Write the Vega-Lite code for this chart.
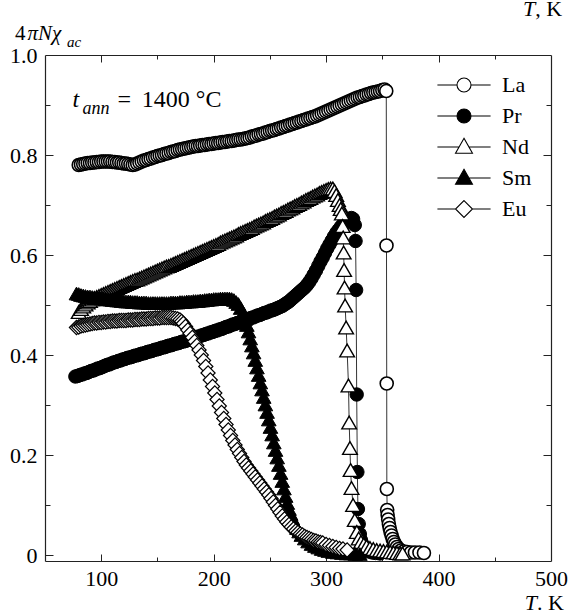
{
"$schema": "https://vega.github.io/schema/vega-lite/v6.json",
"width": 506, "height": 506,
"autosize": "none",
"padding": {"left": 45, "top": 55, "right": 19, "bottom": 54},
"background": "white",
"config": {"view": {"stroke": null}, "font": "Liberation Serif"},
"datasets": {"c": [
{"s":"La","T":80,"v":0.780},{"s":"La","T":82,"v":0.781},{"s":"La","T":84,"v":0.782},{"s":"La","T":86,"v":0.783},{"s":"La","T":88,"v":0.784},{"s":"La","T":90,"v":0.784},{"s":"La","T":92,"v":0.785},{"s":"La","T":94,"v":0.785},{"s":"La","T":96,"v":0.786},{"s":"La","T":98,"v":0.786},{"s":"La","T":100,"v":0.787},{"s":"La","T":102,"v":0.787},{"s":"La","T":104,"v":0.787},{"s":"La","T":106,"v":0.787},{"s":"La","T":108,"v":0.787},{"s":"La","T":110,"v":0.786},{"s":"La","T":112,"v":0.786},{"s":"La","T":114,"v":0.785},{"s":"La","T":116,"v":0.785},{"s":"La","T":118,"v":0.784},{"s":"La","T":120,"v":0.783},{"s":"La","T":122,"v":0.783},{"s":"La","T":124,"v":0.782},{"s":"La","T":126,"v":0.781},{"s":"La","T":128,"v":0.780},{"s":"La","T":130,"v":0.781},{"s":"La","T":132,"v":0.783},{"s":"La","T":134,"v":0.785},{"s":"La","T":136,"v":0.787},{"s":"La","T":138,"v":0.789},{"s":"La","T":140,"v":0.790},{"s":"La","T":142,"v":0.792},{"s":"La","T":144,"v":0.793},{"s":"La","T":146,"v":0.795},{"s":"La","T":148,"v":0.796},{"s":"La","T":150,"v":0.798},{"s":"La","T":152,"v":0.799},{"s":"La","T":154,"v":0.800},{"s":"La","T":156,"v":0.802},{"s":"La","T":158,"v":0.803},{"s":"La","T":160,"v":0.804},{"s":"La","T":162,"v":0.806},{"s":"La","T":164,"v":0.807},{"s":"La","T":166,"v":0.808},{"s":"La","T":168,"v":0.810},{"s":"La","T":170,"v":0.811},{"s":"La","T":172,"v":0.812},{"s":"La","T":174,"v":0.813},{"s":"La","T":176,"v":0.814},{"s":"La","T":178,"v":0.815},{"s":"La","T":180,"v":0.816},{"s":"La","T":182,"v":0.817},{"s":"La","T":184,"v":0.818},{"s":"La","T":186,"v":0.818},{"s":"La","T":188,"v":0.819},{"s":"La","T":190,"v":0.820},{"s":"La","T":192,"v":0.820},{"s":"La","T":194,"v":0.821},{"s":"La","T":196,"v":0.822},{"s":"La","T":198,"v":0.822},{"s":"La","T":200,"v":0.823},{"s":"La","T":202,"v":0.824},{"s":"La","T":204,"v":0.824},{"s":"La","T":206,"v":0.825},{"s":"La","T":208,"v":0.826},{"s":"La","T":210,"v":0.826},{"s":"La","T":212,"v":0.827},{"s":"La","T":214,"v":0.828},{"s":"La","T":216,"v":0.828},{"s":"La","T":218,"v":0.829},{"s":"La","T":220,"v":0.830},{"s":"La","T":222,"v":0.831},{"s":"La","T":224,"v":0.831},{"s":"La","T":226,"v":0.832},{"s":"La","T":228,"v":0.833},{"s":"La","T":230,"v":0.834},{"s":"La","T":232,"v":0.835},{"s":"La","T":234,"v":0.837},{"s":"La","T":236,"v":0.838},{"s":"La","T":238,"v":0.839},{"s":"La","T":240,"v":0.841},{"s":"La","T":242,"v":0.842},{"s":"La","T":244,"v":0.843},{"s":"La","T":246,"v":0.845},{"s":"La","T":248,"v":0.846},{"s":"La","T":250,"v":0.848},{"s":"La","T":252,"v":0.849},{"s":"La","T":254,"v":0.850},{"s":"La","T":256,"v":0.852},{"s":"La","T":258,"v":0.853},{"s":"La","T":260,"v":0.855},{"s":"La","T":262,"v":0.856},{"s":"La","T":264,"v":0.858},{"s":"La","T":266,"v":0.859},{"s":"La","T":268,"v":0.861},{"s":"La","T":270,"v":0.862},{"s":"La","T":272,"v":0.864},{"s":"La","T":274,"v":0.865},{"s":"La","T":276,"v":0.867},{"s":"La","T":278,"v":0.868},{"s":"La","T":280,"v":0.870},{"s":"La","T":282,"v":0.871},{"s":"La","T":284,"v":0.873},{"s":"La","T":286,"v":0.874},{"s":"La","T":288,"v":0.876},{"s":"La","T":290,"v":0.877},{"s":"La","T":292,"v":0.879},{"s":"La","T":294,"v":0.881},{"s":"La","T":296,"v":0.883},{"s":"La","T":298,"v":0.885},{"s":"La","T":300,"v":0.887},{"s":"La","T":302,"v":0.889},{"s":"La","T":304,"v":0.891},{"s":"La","T":306,"v":0.893},{"s":"La","T":308,"v":0.895},{"s":"La","T":310,"v":0.897},{"s":"La","T":312,"v":0.899},{"s":"La","T":314,"v":0.901},{"s":"La","T":316,"v":0.903},{"s":"La","T":318,"v":0.905},{"s":"La","T":320,"v":0.907},{"s":"La","T":322,"v":0.909},{"s":"La","T":324,"v":0.911},{"s":"La","T":326,"v":0.913},{"s":"La","T":328,"v":0.915},{"s":"La","T":330,"v":0.916},{"s":"La","T":332,"v":0.918},{"s":"La","T":334,"v":0.919},{"s":"La","T":336,"v":0.921},{"s":"La","T":338,"v":0.922},{"s":"La","T":340,"v":0.924},{"s":"La","T":342,"v":0.925},{"s":"La","T":344,"v":0.926},{"s":"La","T":346,"v":0.927},{"s":"La","T":348,"v":0.928},{"s":"La","T":350,"v":0.930},{"s":"La","T":352,"v":0.931},{"s":"La","T":353.5,"v":0.928},{"s":"La","T":353.7,"v":0.619},{"s":"La","T":353.9,"v":0.343},{"s":"La","T":354.0,"v":0.132},{"s":"La","T":354.3,"v":0.090},{"s":"La","T":354.7,"v":0.080},{"s":"La","T":355.2,"v":0.071},{"s":"La","T":355.8,"v":0.062},{"s":"La","T":356.5,"v":0.054},{"s":"La","T":357.3,"v":0.046},{"s":"La","T":358.2,"v":0.039},{"s":"La","T":359.2,"v":0.032},{"s":"La","T":360.3,"v":0.026},{"s":"La","T":361.5,"v":0.021},{"s":"La","T":363,"v":0.016},{"s":"La","T":364.5,"v":0.012},{"s":"La","T":366.5,"v":0.009},{"s":"La","T":369,"v":0.007},{"s":"La","T":372,"v":0.006},{"s":"La","T":375.5,"v":0.005},{"s":"La","T":379,"v":0.005},{"s":"La","T":383,"v":0.005},{"s":"La","T":387,"v":0.004},
{"s":"Pr","T":77,"v":0.357},{"s":"Pr","T":79,"v":0.358},{"s":"Pr","T":81,"v":0.360},{"s":"Pr","T":83,"v":0.361},{"s":"Pr","T":85,"v":0.363},{"s":"Pr","T":87,"v":0.364},{"s":"Pr","T":89,"v":0.366},{"s":"Pr","T":91,"v":0.368},{"s":"Pr","T":93,"v":0.369},{"s":"Pr","T":95,"v":0.371},{"s":"Pr","T":97,"v":0.373},{"s":"Pr","T":99,"v":0.374},{"s":"Pr","T":101,"v":0.376},{"s":"Pr","T":103,"v":0.378},{"s":"Pr","T":105,"v":0.380},{"s":"Pr","T":107,"v":0.381},{"s":"Pr","T":109,"v":0.383},{"s":"Pr","T":111,"v":0.385},{"s":"Pr","T":113,"v":0.386},{"s":"Pr","T":115,"v":0.388},{"s":"Pr","T":117,"v":0.389},{"s":"Pr","T":119,"v":0.391},{"s":"Pr","T":121,"v":0.392},{"s":"Pr","T":123,"v":0.394},{"s":"Pr","T":125,"v":0.395},{"s":"Pr","T":127,"v":0.396},{"s":"Pr","T":129,"v":0.398},{"s":"Pr","T":131,"v":0.399},{"s":"Pr","T":133,"v":0.400},{"s":"Pr","T":135,"v":0.402},{"s":"Pr","T":137,"v":0.403},{"s":"Pr","T":139,"v":0.404},{"s":"Pr","T":141,"v":0.406},{"s":"Pr","T":143,"v":0.407},{"s":"Pr","T":145,"v":0.408},{"s":"Pr","T":147,"v":0.410},{"s":"Pr","T":149,"v":0.411},{"s":"Pr","T":151,"v":0.412},{"s":"Pr","T":153,"v":0.414},{"s":"Pr","T":155,"v":0.415},{"s":"Pr","T":157,"v":0.416},{"s":"Pr","T":159,"v":0.418},{"s":"Pr","T":161,"v":0.419},{"s":"Pr","T":163,"v":0.420},{"s":"Pr","T":165,"v":0.422},{"s":"Pr","T":167,"v":0.423},{"s":"Pr","T":169,"v":0.424},{"s":"Pr","T":171,"v":0.426},{"s":"Pr","T":173,"v":0.427},{"s":"Pr","T":175,"v":0.428},{"s":"Pr","T":177,"v":0.430},{"s":"Pr","T":179,"v":0.431},{"s":"Pr","T":181,"v":0.433},{"s":"Pr","T":183,"v":0.434},{"s":"Pr","T":185,"v":0.436},{"s":"Pr","T":187,"v":0.437},{"s":"Pr","T":189,"v":0.439},{"s":"Pr","T":191,"v":0.440},{"s":"Pr","T":193,"v":0.442},{"s":"Pr","T":195,"v":0.443},{"s":"Pr","T":197,"v":0.445},{"s":"Pr","T":199,"v":0.446},{"s":"Pr","T":201,"v":0.448},{"s":"Pr","T":203,"v":0.449},{"s":"Pr","T":205,"v":0.451},{"s":"Pr","T":207,"v":0.452},{"s":"Pr","T":209,"v":0.454},{"s":"Pr","T":211,"v":0.456},{"s":"Pr","T":213,"v":0.457},{"s":"Pr","T":215,"v":0.459},{"s":"Pr","T":217,"v":0.461},{"s":"Pr","T":219,"v":0.462},{"s":"Pr","T":221,"v":0.464},{"s":"Pr","T":223,"v":0.465},{"s":"Pr","T":225,"v":0.467},{"s":"Pr","T":227,"v":0.469},{"s":"Pr","T":229,"v":0.470},{"s":"Pr","T":231,"v":0.472},{"s":"Pr","T":233,"v":0.474},{"s":"Pr","T":235,"v":0.475},{"s":"Pr","T":237,"v":0.477},{"s":"Pr","T":239,"v":0.479},{"s":"Pr","T":241,"v":0.480},{"s":"Pr","T":243,"v":0.482},{"s":"Pr","T":245,"v":0.484},{"s":"Pr","T":247,"v":0.485},{"s":"Pr","T":249,"v":0.487},{"s":"Pr","T":251,"v":0.489},{"s":"Pr","T":253,"v":0.490},{"s":"Pr","T":255,"v":0.492},{"s":"Pr","T":257,"v":0.494},{"s":"Pr","T":259,"v":0.496},{"s":"Pr","T":261,"v":0.498},{"s":"Pr","T":263,"v":0.501},{"s":"Pr","T":265,"v":0.504},{"s":"Pr","T":267,"v":0.507},{"s":"Pr","T":269,"v":0.511},{"s":"Pr","T":271,"v":0.515},{"s":"Pr","T":273,"v":0.519},{"s":"Pr","T":275,"v":0.523},{"s":"Pr","T":277,"v":0.527},{"s":"Pr","T":279,"v":0.531},{"s":"Pr","T":281,"v":0.535},{"s":"Pr","T":283,"v":0.540},{"s":"Pr","T":285,"v":0.546},{"s":"Pr","T":287,"v":0.553},{"s":"Pr","T":289,"v":0.561},{"s":"Pr","T":291,"v":0.569},{"s":"Pr","T":293,"v":0.578},{"s":"Pr","T":295,"v":0.587},{"s":"Pr","T":297,"v":0.595},{"s":"Pr","T":299,"v":0.604},{"s":"Pr","T":301,"v":0.613},{"s":"Pr","T":303,"v":0.621},{"s":"Pr","T":305,"v":0.629},{"s":"Pr","T":307,"v":0.637},{"s":"Pr","T":309,"v":0.644},{"s":"Pr","T":311,"v":0.650},{"s":"Pr","T":313,"v":0.656},{"s":"Pr","T":315,"v":0.661},{"s":"Pr","T":317,"v":0.666},{"s":"Pr","T":319,"v":0.669},{"s":"Pr","T":321,"v":0.672},{"s":"Pr","T":322.5,"v":0.674},{"s":"Pr","T":324,"v":0.672},{"s":"Pr","T":325.5,"v":0.660},{"s":"Pr","T":326.2,"v":0.628},{"s":"Pr","T":326.7,"v":0.530},{"s":"Pr","T":327.2,"v":0.321},{"s":"Pr","T":327.8,"v":0.166},{"s":"Pr","T":328.3,"v":0.092},{"s":"Pr","T":329,"v":0.062},{"s":"Pr","T":330,"v":0.042},{"s":"Pr","T":331,"v":0.030},{"s":"Pr","T":332.5,"v":0.021},{"s":"Pr","T":334,"v":0.015},{"s":"Pr","T":336,"v":0.010},{"s":"Pr","T":338,"v":0.007},{"s":"Pr","T":341,"v":0.005},{"s":"Pr","T":344,"v":0.004},{"s":"Pr","T":348,"v":0.003},
{"s":"Nd","T":80,"v":0.486},{"s":"Nd","T":82,"v":0.492},{"s":"Nd","T":84,"v":0.497},{"s":"Nd","T":86,"v":0.501},{"s":"Nd","T":88,"v":0.505},{"s":"Nd","T":90,"v":0.508},{"s":"Nd","T":92,"v":0.511},{"s":"Nd","T":94,"v":0.514},{"s":"Nd","T":96,"v":0.516},{"s":"Nd","T":98,"v":0.518},{"s":"Nd","T":100,"v":0.520},{"s":"Nd","T":102,"v":0.522},{"s":"Nd","T":104,"v":0.524},{"s":"Nd","T":106,"v":0.526},{"s":"Nd","T":108,"v":0.528},{"s":"Nd","T":110,"v":0.530},{"s":"Nd","T":112,"v":0.532},{"s":"Nd","T":114,"v":0.534},{"s":"Nd","T":116,"v":0.536},{"s":"Nd","T":118,"v":0.538},{"s":"Nd","T":120,"v":0.540},{"s":"Nd","T":122,"v":0.542},{"s":"Nd","T":124,"v":0.544},{"s":"Nd","T":126,"v":0.546},{"s":"Nd","T":128,"v":0.548},{"s":"Nd","T":130,"v":0.550},{"s":"Nd","T":132,"v":0.551},{"s":"Nd","T":134,"v":0.553},{"s":"Nd","T":136,"v":0.555},{"s":"Nd","T":138,"v":0.557},{"s":"Nd","T":140,"v":0.559},{"s":"Nd","T":142,"v":0.561},{"s":"Nd","T":144,"v":0.563},{"s":"Nd","T":146,"v":0.565},{"s":"Nd","T":148,"v":0.567},{"s":"Nd","T":150,"v":0.569},{"s":"Nd","T":152,"v":0.571},{"s":"Nd","T":154,"v":0.573},{"s":"Nd","T":156,"v":0.575},{"s":"Nd","T":158,"v":0.577},{"s":"Nd","T":160,"v":0.578},{"s":"Nd","T":162,"v":0.580},{"s":"Nd","T":164,"v":0.582},{"s":"Nd","T":166,"v":0.584},{"s":"Nd","T":168,"v":0.586},{"s":"Nd","T":170,"v":0.588},{"s":"Nd","T":172,"v":0.590},{"s":"Nd","T":174,"v":0.592},{"s":"Nd","T":176,"v":0.594},{"s":"Nd","T":178,"v":0.596},{"s":"Nd","T":180,"v":0.598},{"s":"Nd","T":182,"v":0.600},{"s":"Nd","T":184,"v":0.602},{"s":"Nd","T":186,"v":0.604},{"s":"Nd","T":188,"v":0.606},{"s":"Nd","T":190,"v":0.608},{"s":"Nd","T":192,"v":0.610},{"s":"Nd","T":194,"v":0.612},{"s":"Nd","T":196,"v":0.614},{"s":"Nd","T":198,"v":0.616},{"s":"Nd","T":200,"v":0.618},{"s":"Nd","T":202,"v":0.620},{"s":"Nd","T":204,"v":0.622},{"s":"Nd","T":206,"v":0.625},{"s":"Nd","T":208,"v":0.627},{"s":"Nd","T":210,"v":0.629},{"s":"Nd","T":212,"v":0.631},{"s":"Nd","T":214,"v":0.633},{"s":"Nd","T":216,"v":0.635},{"s":"Nd","T":218,"v":0.637},{"s":"Nd","T":220,"v":0.639},{"s":"Nd","T":222,"v":0.642},{"s":"Nd","T":224,"v":0.644},{"s":"Nd","T":226,"v":0.646},{"s":"Nd","T":228,"v":0.648},{"s":"Nd","T":230,"v":0.650},{"s":"Nd","T":232,"v":0.652},{"s":"Nd","T":234,"v":0.654},{"s":"Nd","T":236,"v":0.657},{"s":"Nd","T":238,"v":0.659},{"s":"Nd","T":240,"v":0.661},{"s":"Nd","T":242,"v":0.663},{"s":"Nd","T":244,"v":0.665},{"s":"Nd","T":246,"v":0.668},{"s":"Nd","T":248,"v":0.670},{"s":"Nd","T":250,"v":0.672},{"s":"Nd","T":252,"v":0.674},{"s":"Nd","T":254,"v":0.677},{"s":"Nd","T":256,"v":0.679},{"s":"Nd","T":258,"v":0.681},{"s":"Nd","T":260,"v":0.684},{"s":"Nd","T":262,"v":0.686},{"s":"Nd","T":264,"v":0.688},{"s":"Nd","T":266,"v":0.691},{"s":"Nd","T":268,"v":0.693},{"s":"Nd","T":270,"v":0.695},{"s":"Nd","T":272,"v":0.698},{"s":"Nd","T":274,"v":0.700},{"s":"Nd","T":276,"v":0.702},{"s":"Nd","T":278,"v":0.705},{"s":"Nd","T":280,"v":0.707},{"s":"Nd","T":282,"v":0.710},{"s":"Nd","T":284,"v":0.712},{"s":"Nd","T":286,"v":0.714},{"s":"Nd","T":288,"v":0.717},{"s":"Nd","T":290,"v":0.719},{"s":"Nd","T":292,"v":0.721},{"s":"Nd","T":294,"v":0.724},{"s":"Nd","T":296,"v":0.726},{"s":"Nd","T":298,"v":0.728},{"s":"Nd","T":300,"v":0.730},{"s":"Nd","T":302,"v":0.732},{"s":"Nd","T":304,"v":0.733},{"s":"Nd","T":306,"v":0.733},{"s":"Nd","T":307.5,"v":0.728},{"s":"Nd","T":309,"v":0.720},{"s":"Nd","T":310.5,"v":0.710},{"s":"Nd","T":312,"v":0.700},{"s":"Nd","T":313,"v":0.692},{"s":"Nd","T":314,"v":0.683},{"s":"Nd","T":314.7,"v":0.658},{"s":"Nd","T":315.2,"v":0.635},{"s":"Nd","T":315.6,"v":0.605},{"s":"Nd","T":316,"v":0.570},{"s":"Nd","T":316.4,"v":0.535},{"s":"Nd","T":316.9,"v":0.499},{"s":"Nd","T":317.8,"v":0.455},{"s":"Nd","T":318.7,"v":0.409},{"s":"Nd","T":319.9,"v":0.339},{"s":"Nd","T":320.5,"v":0.265},{"s":"Nd","T":321.2,"v":0.214},{"s":"Nd","T":321.8,"v":0.170},{"s":"Nd","T":322.6,"v":0.134},{"s":"Nd","T":324,"v":0.100},{"s":"Nd","T":325.5,"v":0.070},{"s":"Nd","T":327.3,"v":0.046},{"s":"Nd","T":329,"v":0.033},{"s":"Nd","T":331,"v":0.026},{"s":"Nd","T":333.5,"v":0.021},{"s":"Nd","T":336,"v":0.017},{"s":"Nd","T":339,"v":0.014},{"s":"Nd","T":342,"v":0.012},{"s":"Nd","T":345,"v":0.010},{"s":"Nd","T":348,"v":0.009},{"s":"Nd","T":351,"v":0.008},{"s":"Nd","T":354,"v":0.007},{"s":"Nd","T":357,"v":0.006},{"s":"Nd","T":360,"v":0.005},{"s":"Nd","T":363,"v":0.004},{"s":"Nd","T":366,"v":0.003},{"s":"Nd","T":368,"v":0.003},
{"s":"Sm","T":78,"v":0.523},{"s":"Sm","T":80,"v":0.522},{"s":"Sm","T":82,"v":0.520},{"s":"Sm","T":84,"v":0.519},{"s":"Sm","T":86,"v":0.518},{"s":"Sm","T":88,"v":0.517},{"s":"Sm","T":90,"v":0.517},{"s":"Sm","T":92,"v":0.516},{"s":"Sm","T":94,"v":0.515},{"s":"Sm","T":96,"v":0.515},{"s":"Sm","T":98,"v":0.514},{"s":"Sm","T":100,"v":0.513},{"s":"Sm","T":102,"v":0.513},{"s":"Sm","T":104,"v":0.512},{"s":"Sm","T":106,"v":0.511},{"s":"Sm","T":108,"v":0.511},{"s":"Sm","T":110,"v":0.510},{"s":"Sm","T":112,"v":0.510},{"s":"Sm","T":114,"v":0.509},{"s":"Sm","T":116,"v":0.509},{"s":"Sm","T":118,"v":0.508},{"s":"Sm","T":120,"v":0.508},{"s":"Sm","T":122,"v":0.507},{"s":"Sm","T":124,"v":0.507},{"s":"Sm","T":126,"v":0.507},{"s":"Sm","T":128,"v":0.506},{"s":"Sm","T":130,"v":0.506},{"s":"Sm","T":132,"v":0.506},{"s":"Sm","T":134,"v":0.505},{"s":"Sm","T":136,"v":0.505},{"s":"Sm","T":138,"v":0.505},{"s":"Sm","T":140,"v":0.505},{"s":"Sm","T":142,"v":0.504},{"s":"Sm","T":144,"v":0.504},{"s":"Sm","T":146,"v":0.504},{"s":"Sm","T":148,"v":0.504},{"s":"Sm","T":150,"v":0.504},{"s":"Sm","T":152,"v":0.504},{"s":"Sm","T":154,"v":0.504},{"s":"Sm","T":156,"v":0.504},{"s":"Sm","T":158,"v":0.504},{"s":"Sm","T":160,"v":0.504},{"s":"Sm","T":162,"v":0.505},{"s":"Sm","T":164,"v":0.505},{"s":"Sm","T":166,"v":0.505},{"s":"Sm","T":168,"v":0.505},{"s":"Sm","T":170,"v":0.506},{"s":"Sm","T":172,"v":0.506},{"s":"Sm","T":174,"v":0.506},{"s":"Sm","T":176,"v":0.507},{"s":"Sm","T":178,"v":0.507},{"s":"Sm","T":180,"v":0.507},{"s":"Sm","T":182,"v":0.508},{"s":"Sm","T":184,"v":0.508},{"s":"Sm","T":186,"v":0.508},{"s":"Sm","T":188,"v":0.509},{"s":"Sm","T":190,"v":0.509},{"s":"Sm","T":192,"v":0.510},{"s":"Sm","T":194,"v":0.510},{"s":"Sm","T":196,"v":0.511},{"s":"Sm","T":198,"v":0.511},{"s":"Sm","T":200,"v":0.512},{"s":"Sm","T":202,"v":0.512},{"s":"Sm","T":204,"v":0.512},{"s":"Sm","T":206,"v":0.513},{"s":"Sm","T":208,"v":0.513},{"s":"Sm","T":210,"v":0.513},{"s":"Sm","T":212,"v":0.513},{"s":"Sm","T":214,"v":0.513},{"s":"Sm","T":216,"v":0.512},{"s":"Sm","T":218,"v":0.510},{"s":"Sm","T":220,"v":0.506},{"s":"Sm","T":222,"v":0.502},{"s":"Sm","T":224,"v":0.494},{"s":"Sm","T":226,"v":0.484},{"s":"Sm","T":228,"v":0.472},{"s":"Sm","T":229.5,"v":0.460},{"s":"Sm","T":231,"v":0.447},{"s":"Sm","T":232.5,"v":0.433},{"s":"Sm","T":234,"v":0.419},{"s":"Sm","T":235.5,"v":0.405},{"s":"Sm","T":237,"v":0.390},{"s":"Sm","T":238.5,"v":0.375},{"s":"Sm","T":240,"v":0.360},{"s":"Sm","T":241.5,"v":0.345},{"s":"Sm","T":243,"v":0.331},{"s":"Sm","T":244.5,"v":0.316},{"s":"Sm","T":246,"v":0.301},{"s":"Sm","T":247.5,"v":0.286},{"s":"Sm","T":249,"v":0.271},{"s":"Sm","T":250.5,"v":0.256},{"s":"Sm","T":252,"v":0.241},{"s":"Sm","T":253.5,"v":0.225},{"s":"Sm","T":255,"v":0.210},{"s":"Sm","T":256.5,"v":0.195},{"s":"Sm","T":258,"v":0.180},{"s":"Sm","T":259.5,"v":0.164},{"s":"Sm","T":261,"v":0.148},{"s":"Sm","T":262.5,"v":0.133},{"s":"Sm","T":264,"v":0.118},{"s":"Sm","T":265.5,"v":0.104},{"s":"Sm","T":267,"v":0.092},{"s":"Sm","T":268.5,"v":0.082},{"s":"Sm","T":270,"v":0.073},{"s":"Sm","T":272,"v":0.063},{"s":"Sm","T":274,"v":0.054},{"s":"Sm","T":276,"v":0.047},{"s":"Sm","T":278,"v":0.040},{"s":"Sm","T":281,"v":0.033},{"s":"Sm","T":284,"v":0.027},{"s":"Sm","T":287,"v":0.022},{"s":"Sm","T":290,"v":0.018},{"s":"Sm","T":293,"v":0.015},{"s":"Sm","T":296,"v":0.012},{"s":"Sm","T":299,"v":0.010},{"s":"Sm","T":302,"v":0.008},{"s":"Sm","T":306,"v":0.006},{"s":"Sm","T":310,"v":0.005},{"s":"Sm","T":314,"v":0.004},{"s":"Sm","T":318,"v":0.003},{"s":"Sm","T":322,"v":0.003},{"s":"Sm","T":326,"v":0.002},{"s":"Sm","T":330,"v":0.002},
{"s":"Eu","T":78,"v":0.455},{"s":"Eu","T":80,"v":0.456},{"s":"Eu","T":82,"v":0.458},{"s":"Eu","T":84,"v":0.459},{"s":"Eu","T":86,"v":0.460},{"s":"Eu","T":88,"v":0.461},{"s":"Eu","T":90,"v":0.462},{"s":"Eu","T":92,"v":0.463},{"s":"Eu","T":94,"v":0.464},{"s":"Eu","T":96,"v":0.464},{"s":"Eu","T":98,"v":0.465},{"s":"Eu","T":100,"v":0.465},{"s":"Eu","T":102,"v":0.466},{"s":"Eu","T":104,"v":0.466},{"s":"Eu","T":106,"v":0.467},{"s":"Eu","T":108,"v":0.467},{"s":"Eu","T":110,"v":0.468},{"s":"Eu","T":112,"v":0.468},{"s":"Eu","T":114,"v":0.468},{"s":"Eu","T":116,"v":0.469},{"s":"Eu","T":118,"v":0.469},{"s":"Eu","T":120,"v":0.469},{"s":"Eu","T":122,"v":0.469},{"s":"Eu","T":124,"v":0.470},{"s":"Eu","T":126,"v":0.470},{"s":"Eu","T":128,"v":0.470},{"s":"Eu","T":130,"v":0.471},{"s":"Eu","T":132,"v":0.471},{"s":"Eu","T":134,"v":0.471},{"s":"Eu","T":136,"v":0.472},{"s":"Eu","T":138,"v":0.472},{"s":"Eu","T":140,"v":0.472},{"s":"Eu","T":142,"v":0.473},{"s":"Eu","T":144,"v":0.473},{"s":"Eu","T":146,"v":0.473},{"s":"Eu","T":148,"v":0.474},{"s":"Eu","T":150,"v":0.474},{"s":"Eu","T":152,"v":0.474},{"s":"Eu","T":154,"v":0.475},{"s":"Eu","T":156,"v":0.475},{"s":"Eu","T":158,"v":0.475},{"s":"Eu","T":160,"v":0.475},{"s":"Eu","T":162,"v":0.475},{"s":"Eu","T":164,"v":0.474},{"s":"Eu","T":166,"v":0.473},{"s":"Eu","T":168,"v":0.472},{"s":"Eu","T":170,"v":0.470},{"s":"Eu","T":171.5,"v":0.467},{"s":"Eu","T":173,"v":0.463},{"s":"Eu","T":175,"v":0.457},{"s":"Eu","T":177,"v":0.450},{"s":"Eu","T":179,"v":0.443},{"s":"Eu","T":181,"v":0.435},{"s":"Eu","T":183,"v":0.427},{"s":"Eu","T":185,"v":0.419},{"s":"Eu","T":187,"v":0.410},{"s":"Eu","T":189,"v":0.400},{"s":"Eu","T":191,"v":0.389},{"s":"Eu","T":193,"v":0.377},{"s":"Eu","T":195,"v":0.364},{"s":"Eu","T":197,"v":0.350},{"s":"Eu","T":199,"v":0.337},{"s":"Eu","T":201,"v":0.324},{"s":"Eu","T":203,"v":0.311},{"s":"Eu","T":205,"v":0.298},{"s":"Eu","T":207,"v":0.285},{"s":"Eu","T":209,"v":0.273},{"s":"Eu","T":211,"v":0.261},{"s":"Eu","T":213,"v":0.250},{"s":"Eu","T":215,"v":0.239},{"s":"Eu","T":217,"v":0.229},{"s":"Eu","T":219,"v":0.220},{"s":"Eu","T":221,"v":0.211},{"s":"Eu","T":223,"v":0.203},{"s":"Eu","T":225,"v":0.195},{"s":"Eu","T":227,"v":0.187},{"s":"Eu","T":229,"v":0.180},{"s":"Eu","T":231,"v":0.174},{"s":"Eu","T":233,"v":0.168},{"s":"Eu","T":235,"v":0.162},{"s":"Eu","T":237,"v":0.156},{"s":"Eu","T":239,"v":0.150},{"s":"Eu","T":241,"v":0.144},{"s":"Eu","T":243,"v":0.138},{"s":"Eu","T":245,"v":0.132},{"s":"Eu","T":247,"v":0.126},{"s":"Eu","T":249,"v":0.120},{"s":"Eu","T":251,"v":0.113},{"s":"Eu","T":253,"v":0.106},{"s":"Eu","T":255,"v":0.099},{"s":"Eu","T":257,"v":0.092},{"s":"Eu","T":259,"v":0.085},{"s":"Eu","T":261,"v":0.078},{"s":"Eu","T":263,"v":0.072},{"s":"Eu","T":265,"v":0.066},{"s":"Eu","T":267,"v":0.061},{"s":"Eu","T":269,"v":0.056},{"s":"Eu","T":271,"v":0.052},{"s":"Eu","T":273,"v":0.048},{"s":"Eu","T":275,"v":0.045},{"s":"Eu","T":277,"v":0.042},{"s":"Eu","T":279,"v":0.040},{"s":"Eu","T":281,"v":0.037},{"s":"Eu","T":283,"v":0.035},{"s":"Eu","T":285,"v":0.033},{"s":"Eu","T":287,"v":0.031},{"s":"Eu","T":289,"v":0.029},{"s":"Eu","T":291,"v":0.028},{"s":"Eu","T":293,"v":0.026},{"s":"Eu","T":295,"v":0.025},{"s":"Eu","T":297,"v":0.024},{"s":"Eu","T":300,"v":0.021},{"s":"Eu","T":303,"v":0.019},{"s":"Eu","T":306,"v":0.017},{"s":"Eu","T":309,"v":0.015},{"s":"Eu","T":312,"v":0.013},{"s":"Eu","T":315,"v":0.012},{"s":"Eu","T":318.7,"v":0.010}
]},
"data": {"name": "c"},
"layer": [
{
"mark": {"type": "line", "stroke": "black", "strokeWidth": 0.8},
"encoding": {
"x": {"field": "T", "type": "quantitative", "scale": {"domain": [50, 500], "nice": false, "zero": false},
"axis": {"orient": "bottom", "values": [100,200,300,400,500], "format": "d", "title": null, "grid": false, "ticks": false, "domainColor": "#222", "domainWidth": 1.2, "labelFont": "Liberation Serif", "labelFontSize": 22, "labelColor": "black", "labelPadding": 7, "labelFlush": false, "labelOverlap": false}},
"y": {"field": "v", "type": "quantitative", "scale": {"domain": [-0.012, 1.0], "nice": false, "zero": false},
"axis": {"orient": "left", "values": [0,0.2,0.4,0.6,0.8,1.0], "format": ".1f", "labelExpr": "datum.value == 0 ? '0' : datum.label", "title": null, "grid": false, "ticks": false, "domainColor": "#222", "domainWidth": 1.2, "labelFont": "Liberation Serif", "labelFontSize": 22, "labelColor": "black", "labelPadding": 8, "labelFlush": false, "labelOverlap": false}},
"detail": {"field": "s", "type": "nominal"}
}
},
{
"mark": {"type": "point", "filled": true, "stroke": "black", "opacity": 1},
"encoding": {
"x": {"field": "T", "type": "quantitative", "axis": {"orient": "top", "labels": false, "ticks": false, "title": null, "grid": false, "domainColor": "#222", "domainWidth": 1.2}},
"y": {"field": "v", "type": "quantitative", "axis": {"orient": "right", "labels": false, "ticks": false, "title": null, "grid": false, "domainColor": "#222", "domainWidth": 1.2}},
"fill": {"field": "s", "type": "nominal", "scale": {"domain": ["La","Pr","Nd","Sm","Eu"], "range": ["white","black","white","black","white"]}, "legend": null},
"shape": {"field": "s", "type": "nominal", "scale": {"domain": ["La","Pr","Nd","Sm","Eu"], "range": ["circle","circle","triangle-up","triangle-up","diamond"]}, "legend": null},
"size": {"field": "s", "type": "nominal", "scale": {"type": "ordinal", "domain": ["La","Pr","Nd","Sm","Eu"], "range": [169,180,215,215,200]}, "legend": null},
"strokeWidth": {"field": "s", "type": "nominal", "scale": {"type": "ordinal", "domain": ["La","Pr","Nd","Sm","Eu"], "range": [1.6,1,1.4,1,1.2]}, "legend": null}
}
},
{
"data": {"values": []},
"mark": {"type": "point", "filled": true, "strokeWidth": 1.1, "opacity": 1},
"encoding": {
"fill": {"field": "s", "type": "nominal", "scale": {"domain": ["La","Pr","Nd","Sm","Eu"], "range": ["white","black","white","black","white"]},
"legend": {"title": null, "orient": "none", "legendX": 408, "legendY": 19, "padding": 0, "labelFont": "Liberation Serif", "labelFontSize": 22, "labelColor": "black", "symbolSize": 196, "symbolStrokeWidth": 1.1, "labelOffset": 27, "rowPadding": 9}},
"stroke": {"field": "s", "type": "nominal", "scale": {"domain": ["La","Pr","Nd","Sm","Eu"], "range": ["black","black","black","black","black"]},
"legend": {"title": null, "orient": "none", "legendX": 408, "legendY": 19, "padding": 0, "labelFont": "Liberation Serif", "labelFontSize": 22, "labelColor": "black", "symbolSize": 196, "symbolStrokeWidth": 1.1, "labelOffset": 27, "rowPadding": 9}},
"shape": {"field": "s", "type": "nominal", "scale": {"domain": ["La","Pr","Nd","Sm","Eu"], "range": [
"M-3.8,0H-1M1,0H3.8M-1,0A1,1,0,1,1,1,0A1,1,0,1,1,-1,0Z",
"M-3.8,0H-1M1,0H3.8M-1,0A1,1,0,1,1,1,0A1,1,0,1,1,-1,0Z",
"M-3.8,0H-0.7M0.7,0H3.8M0,-1.25L1.21,0.9L-1.21,0.9Z",
"M-3.8,0H-0.7M0.7,0H3.8M0,-1.25L1.21,0.9L-1.21,0.9Z",
"M-3.8,0H-1.21M1.21,0H3.8M0,-1.21L1.21,0L0,1.21L-1.21,0Z"]},
"legend": {"title": null, "orient": "none", "legendX": 408, "legendY": 19, "padding": 0, "labelFont": "Liberation Serif", "labelFontSize": 22, "labelColor": "black", "symbolSize": 196, "symbolStrokeWidth": 1.1, "labelOffset": 27, "rowPadding": 9}}
}
},
{"data": {"values": [{}]}, "mark": {"type": "text", "text": "t", "font": "Liberation Serif", "fontStyle": "italic", "fontSize": 24, "align": "left", "baseline": "alphabetic", "color": "black"},
"encoding": {
"x": {"datum": 74.5, "type": "quantitative", "axis": {"orient": "top", "offset": -506, "values": [100,150,200,250,300,350,400,450], "labels": false, "domain": false, "title": null, "grid": false, "tickColor": "#222", "tickWidth": 1, "tickSize": {"condition": {"test": "datum.value % 100 == 0", "value": 7}, "value": 4}}},
"y": {"datum": 0.896, "type": "quantitative", "axis": {"orient": "right", "offset": -506, "values": [0,0.1,0.2,0.3,0.4,0.5,0.6,0.7,0.8,0.9], "labels": false, "domain": false, "title": null, "grid": false, "tickColor": "#222", "tickWidth": 1, "tickSize": {"condition": {"test": "round(datum.value*10) % 2 == 0", "value": 8}, "value": 5}}}}},
{"data": {"values": [{}]}, "mark": {"type": "text", "text": "ann", "font": "Liberation Serif", "fontStyle": "italic", "fontSize": 18, "align": "left", "baseline": "alphabetic", "color": "black"},
"encoding": {
"x": {"datum": 83.3, "type": "quantitative", "axis": {"orient": "bottom", "offset": -506, "values": [100,150,200,250,300,350,400,450], "labels": false, "domain": false, "title": null, "grid": false, "tickColor": "#222", "tickWidth": 1, "tickSize": {"condition": {"test": "datum.value % 100 == 0", "value": 7}, "value": 4}}},
"y": {"datum": 0.882, "type": "quantitative", "axis": {"orient": "left", "offset": -506, "values": [0.1,0.2,0.3,0.4,0.5,0.6,0.7,0.8,0.9], "labels": false, "domain": false, "title": null, "grid": false, "tickColor": "#222", "tickWidth": 1, "tickSize": {"condition": {"test": "round(datum.value*10) % 2 == 0", "value": 8}, "value": 5}}}}},
{"data": {"values": [{}]}, "mark": {"type": "text", "text": "= \u20091400 °C", "font": "Liberation Serif", "fontSize": 24, "align": "left", "baseline": "alphabetic", "color": "black"},
"encoding": {"x": {"datum": 114.5, "type": "quantitative", "axis": null}, "y": {"datum": 0.896, "type": "quantitative", "axis": null}}},
{"data": {"values": [{}]}, "mark": {"type": "text", "text": "4", "font": "Liberation Serif", "fontSize": 21, "align": "left", "baseline": "alphabetic", "color": "black"},
"encoding": {"x": {"datum": 23.3, "type": "quantitative", "axis": null}, "y": {"datum": 1.03, "type": "quantitative", "axis": null}}},
{"data": {"values": [{}]}, "mark": {"type": "text", "text": "πNχ", "font": "Liberation Serif", "fontStyle": "italic", "fontSize": 21, "align": "left", "baseline": "alphabetic", "color": "black"},
"encoding": {"x": {"datum": 34.5, "type": "quantitative", "axis": null}, "y": {"datum": 1.03, "type": "quantitative", "axis": null}}},
{"data": {"values": [{}]}, "mark": {"type": "text", "text": "ac", "font": "Liberation Serif", "fontStyle": "italic", "fontSize": 15, "align": "left", "baseline": "alphabetic", "color": "black"},
"encoding": {"x": {"datum": 69.6, "type": "quantitative", "axis": null}, "y": {"datum": 1.017, "type": "quantitative", "axis": null}}},
{"data": {"values": [{}]}, "mark": {"type": "text", "text": "T", "font": "Liberation Serif", "fontStyle": "italic", "fontSize": 22, "align": "right", "baseline": "alphabetic", "color": "black"},
"encoding": {"x": {"datum": 487.5, "type": "quantitative", "axis": null}, "y": {"datum": -0.11, "type": "quantitative", "axis": null}}},
{"data": {"values": [{}]}, "mark": {"type": "text", "text": ". K", "font": "Liberation Serif", "fontSize": 22, "align": "left", "baseline": "alphabetic", "color": "black"},
"encoding": {"x": {"datum": 487.5, "type": "quantitative", "axis": null}, "y": {"datum": -0.11, "type": "quantitative", "axis": null}}},
{"data": {"values": [{}]}, "mark": {"type": "text", "text": "T", "font": "Liberation Serif", "fontStyle": "italic", "fontSize": 22, "align": "right", "baseline": "alphabetic", "color": "black"},
"encoding": {"x": {"datum": 486.0, "type": "quantitative", "axis": null}, "y": {"datum": 1.078, "type": "quantitative", "axis": null}}},
{"data": {"values": [{}]}, "mark": {"type": "text", "text": ", K", "font": "Liberation Serif", "fontSize": 22, "align": "left", "baseline": "alphabetic", "color": "black"},
"encoding": {"x": {"datum": 486.0, "type": "quantitative", "axis": null}, "y": {"datum": 1.078, "type": "quantitative", "axis": null}}}
],
"resolve": {"scale": {"fill": "independent", "shape": "independent", "size": "independent", "stroke": "independent", "strokeWidth": "independent"}, "axis": {"x": "independent", "y": "independent"}}
}
